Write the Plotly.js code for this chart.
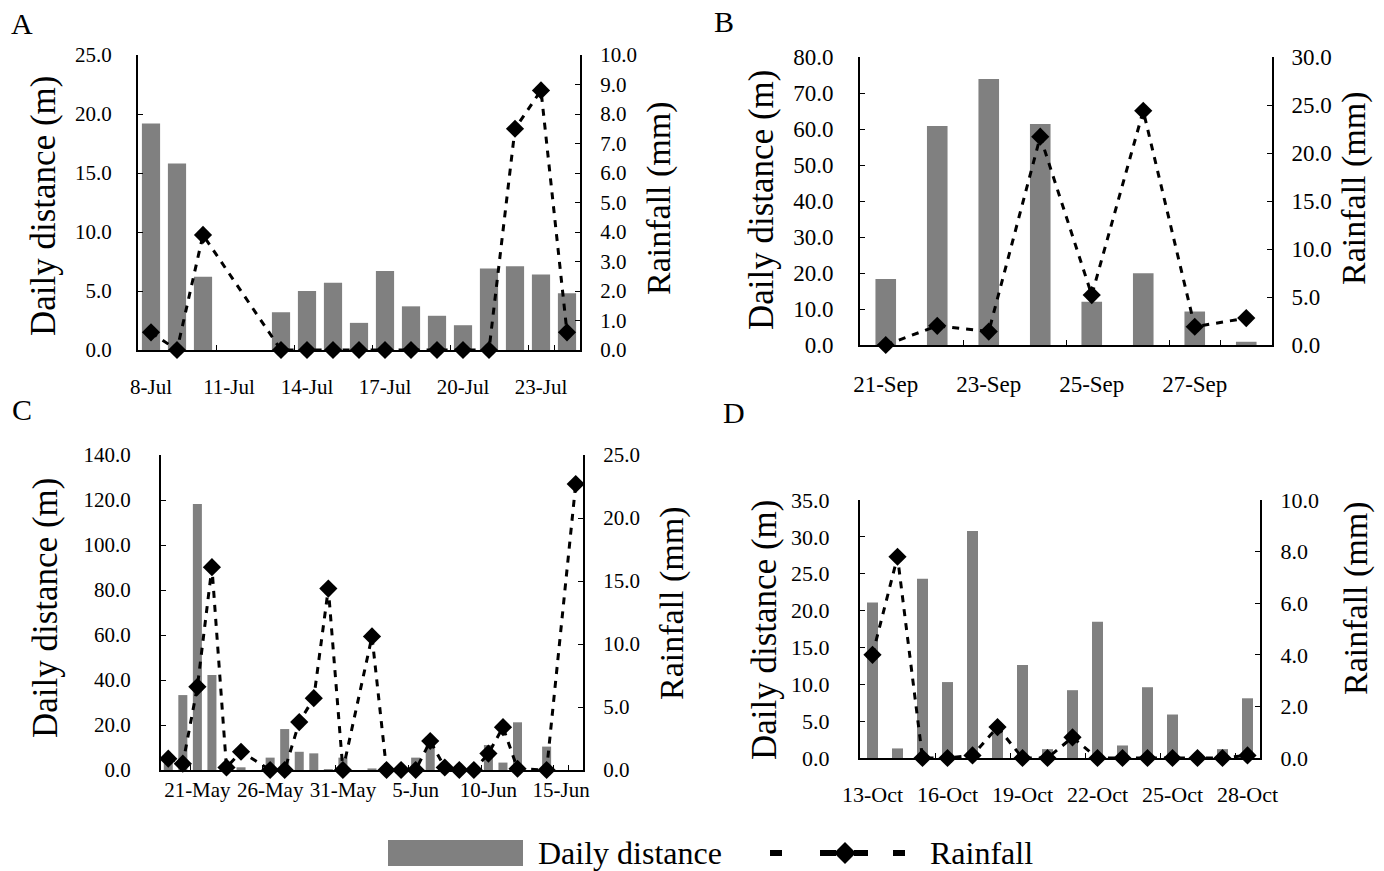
<!DOCTYPE html>
<html>
<head>
<meta charset="utf-8">
<script src="https://cdn.plot.ly/plotly-3.0.1.min.js"></script>
<style>html,body{margin:0;padding:0;background:#fff;}#chart{width:1384px;height:871px;}</style>
</head>
<body>
<div id="chart"></div>
<script>
// ---- Panel A (July) ----
const datesA = ["8-Jul","9-Jul","10-Jul","11-Jul","12-Jul","13-Jul","14-Jul","15-Jul","16-Jul","17-Jul","18-Jul","19-Jul","20-Jul","21-Jul","22-Jul","23-Jul","24-Jul"];
const distA  = [19.2,15.8,6.2,null,null,3.2,5.0,5.7,2.3,6.7,3.7,2.9,2.1,6.9,7.1,6.4,4.8];
const rainA  = [0.6,0,3.9,null,null,0,0,0,0,0,0,0,0,0,7.5,8.8,0.6];
const ticksA = ["8-Jul","11-Jul","14-Jul","17-Jul","20-Jul","23-Jul"];

// ---- Panel B (September) ----
const datesB = ["21-Sep","22-Sep","23-Sep","24-Sep","25-Sep","26-Sep","27-Sep","28-Sep"];
const distB  = [18.3,60.8,73.9,61.4,12.0,19.9,9.3,0.9];
const rainB  = [0,2.0,1.4,21.7,5.2,24.4,1.9,2.8];
const ticksB = ["21-Sep","23-Sep","25-Sep","27-Sep"];

// ---- Panel C (May-June) ----
const datesC = ["19-May","20-May","21-May","22-May","23-May","24-May","25-May","26-May","27-May","28-May","29-May","30-May","31-May",
                "1-Jun","2-Jun","3-Jun","4-Jun","5-Jun","6-Jun","7-Jun","8-Jun","9-Jun","10-Jun","11-Jun","12-Jun","13-Jun","14-Jun","15-Jun","16-Jun"];
const distC  = [3.0,33.3,118.2,42.2,1.5,1.2,null,5.5,18.2,8.1,7.4,0.4,5.5,null,0.7,1.0,0.5,5.5,11.1,1.0,0.5,0.5,11.1,3.3,21.2,null,10.4,null,0];
const rainC  = [0.9,0.5,6.6,16.1,0.2,1.45,null,0,0,3.8,5.7,14.4,0,null,10.6,0,0,0,2.3,0.2,0,0,1.3,3.4,0.1,null,0,null,22.7];
const ticksC = ["21-May","26-May","31-May","5-Jun","10-Jun","15-Jun"];

// ---- Panel D (October) ----
const datesD = ["13-Oct","14-Oct","15-Oct","16-Oct","17-Oct","18-Oct","19-Oct","20-Oct","21-Oct","22-Oct","23-Oct","24-Oct","25-Oct","26-Oct","27-Oct","28-Oct"];
const distD  = [21.1,1.3,24.3,10.3,30.8,3.8,12.6,1.2,9.2,18.5,1.7,9.6,5.9,0,1.2,8.1];
const rainD  = [4.0,7.8,0,0,0.1,1.2,0,0,0.8,0,0,0,0,0,0,0.1];
const ticksD = ["13-Oct","16-Oct","19-Oct","22-Oct","25-Oct","28-Oct"];

const seriesNames = ["Daily distance","Rainfall"];
const panelLetters = ["A","B","C","D"];
const distTitle = "Daily distance (m)";
const rainTitle = "Rainfall (mm)";

const W = 1384, H = 871;
const FONT = "Liberation Serif, Times New Roman, serif";
const BAR = "#808080";

// panel geometry in pixels: [left, right, top, bottom]
const boxes = [[138,580,55,350],[860,1272,57,345],[161,583,455,770],[860,1260,500,758]];
const panels = [
  {dates:datesA, dist:distA, rain:rainA, ticks:ticksA, dmax:25, ddt:5, rmax:10, rdt:1, bw:0.7, tf:21, xs:17, ls:20, rs:14},
  {dates:datesB, dist:distB, rain:rainB, ticks:ticksB, dmax:80, ddt:10, rmax:30, rdt:5, bw:0.4, tf:23, xs:17, ls:20, rs:13},
  {dates:datesC, dist:distC, rain:rainC, ticks:ticksC, dmax:140, ddt:20, rmax:25, rdt:5, bw:0.62, tf:21, xs:0, ls:24, rs:14},
  {dates:datesD, dist:distD, rain:rainD, ticks:ticksD, dmax:35, ddt:5, rmax:10, rdt:2, bw:0.44, tf:22, xs:16, ls:24, rs:14}
];
const titlePos = [
  {l:[43,206], r:[659,198]},
  {l:[762,200], r:[1354,188]},
  {l:[45,608], r:[672,603]},
  {l:[764,630], r:[1356,598]}
];
const letterPos = [[22,23],[724,22],[22,410],[734,412]];

const data = [];
const layout = {
  width: W, height: H,
  margin: {l:0, r:0, t:0, b:0},
  paper_bgcolor: "#fff", plot_bgcolor: "rgba(0,0,0,0)",
  showlegend: false,
  font: {family: FONT, color: "#000"},
  annotations: [], shapes: []
};

panels.forEach((p, i) => {
  const b = boxes[i];
  const xi = i + 1;
  const xName = i === 0 ? "x" : "x" + xi;
  const yl = 2*i + 1, yr = 2*i + 2;
  const ylName = yl === 1 ? "y" : "y" + yl;
  const yrName = "y" + yr;
  const xKey = i === 0 ? "xaxis" : "xaxis" + xi;
  const ylKey = yl === 1 ? "yaxis" : "yaxis" + yl;
  const yrKey = "yaxis" + yr;

  data.push({
    type: "bar", name: seriesNames[0], x: p.dates, y: p.dist,
    xaxis: xName, yaxis: ylName, marker: {color: BAR}, width: p.bw,
    hoverinfo: "x+y"
  });
  data.push({
    type: "scatter", mode: "lines+markers", name: seriesNames[1], x: p.dates, y: p.rain,
    xaxis: xName, yaxis: yrName, connectgaps: true, cliponaxis: false,
    line: {color: "#000", width: 3, dash: "7px,7px"},
    marker: {symbol: "diamond", size: 14, color: "#000"}
  });

  layout[xKey] = {
    domain: [b[0]/W, b[1]/W], anchor: ylName, type: "category",
    categoryorder: "array", categoryarray: p.dates,
    range: [-0.5, p.dates.length - 0.5],
    tickmode: "array", tickvals: p.ticks, ticktext: p.ticks, tickangle: 0,
    tickson: "boundaries", ticks: "inside", ticklen: 5, tickcolor: "#000",
    showline: true, linecolor: "#000", linewidth: 2, showgrid: false, zeroline: false,
    tickfont: {family: FONT, size: p.tf, color: "#000"}, ticklabelstandoff: p.xs,
    fixedrange: true
  };
  layout[ylKey] = {
    domain: [1 - b[3]/H, 1 - b[2]/H], anchor: xName, range: [0, p.dmax], dtick: p.ddt,
    tickformat: ".1f", ticks: "inside", ticklen: 5, tickcolor: "#000",
    showline: true, linecolor: "#000", linewidth: 2, showgrid: false, zeroline: false,
    tickfont: {family: FONT, size: p.tf, color: "#000"}, ticklabelstandoff: p.ls,
    fixedrange: true
  };
  layout[yrKey] = {
    overlaying: ylName, side: "right", anchor: xName, range: [0, p.rmax], dtick: p.rdt,
    tickformat: ".1f", ticks: "inside", ticklen: 5, tickcolor: "#000",
    showline: true, linecolor: "#000", linewidth: 2, showgrid: false, zeroline: false,
    tickfont: {family: FONT, size: p.tf, color: "#000"}, ticklabelstandoff: p.rs,
    fixedrange: true
  };

  const t = titlePos[i];
  layout.annotations.push({
    text: distTitle, xref: "paper", yref: "paper", x: t.l[0]/W, y: 1 - t.l[1]/H,
    xanchor: "center", yanchor: "middle", textangle: -90, showarrow: false,
    font: {family: FONT, size: 35, color: "#000"}
  });
  layout.annotations.push({
    text: rainTitle, xref: "paper", yref: "paper", x: t.r[0]/W, y: 1 - t.r[1]/H,
    xanchor: "center", yanchor: "middle", textangle: -90, showarrow: false,
    font: {family: FONT, size: 34, color: "#000"}
  });
  layout.annotations.push({
    text: panelLetters[i], xref: "paper", yref: "paper",
    x: letterPos[i][0]/W, y: 1 - letterPos[i][1]/H,
    xanchor: "center", yanchor: "middle", showarrow: false,
    font: {family: FONT, size: 30, color: "#000"}
  });
});

// ---- custom legend (bottom) ----
const px = v => v / W, py = v => 1 - v / H;
const ly = 853;
layout.shapes.push({type: "rect", xref: "paper", yref: "paper",
  x0: px(388), x1: px(523), y0: py(866), y1: py(840), fillcolor: BAR, line: {width: 0}});
layout.annotations.push({text: seriesNames[0], xref: "paper", yref: "paper", x: px(536), y: py(ly),
  xanchor: "left", yanchor: "middle", showarrow: false, font: {family: FONT, size: 32, color: "#000"}});
[[770,782],[820,836],[854,868],[893,905]].forEach(s => {
  layout.shapes.push({type: "line", xref: "paper", yref: "paper", x0: px(s[0]), x1: px(s[1]), y0: py(ly), y1: py(ly),
    line: {color: "#000", width: 6}});
});
layout.shapes.push({type: "path", xref: "paper", yref: "paper",
  path: `M ${px(834)} ${py(ly)} L ${px(845)} ${py(ly-11)} L ${px(856)} ${py(ly)} L ${px(845)} ${py(ly+11)} Z`,
  fillcolor: "#000", line: {width: 0}});
layout.annotations.push({text: seriesNames[1], xref: "paper", yref: "paper", x: px(928), y: py(ly),
  xanchor: "left", yanchor: "middle", showarrow: false, font: {family: FONT, size: 32, color: "#000"}});

Plotly.newPlot("chart", data, layout, {displayModeBar: false, staticPlot: true});
</script>
</body>
</html>
